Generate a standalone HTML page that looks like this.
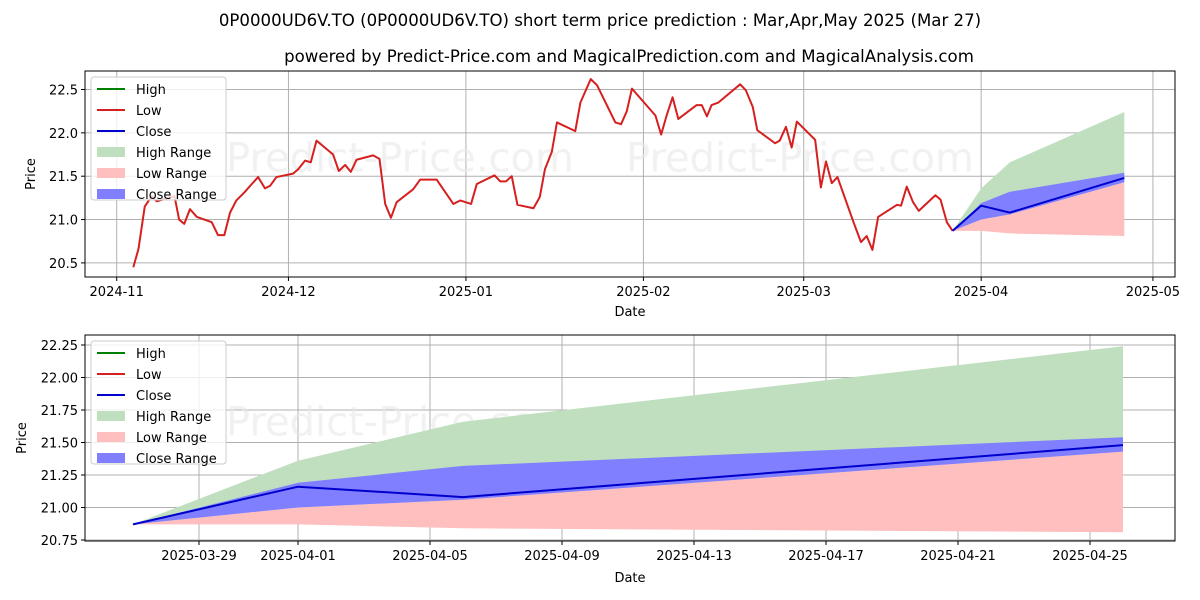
<!DOCTYPE html>
<html><head><meta charset="utf-8"><style>
body{margin:0;background:#fff;}
svg{display:block;font-family:"DejaVu Sans","Liberation Sans",sans-serif;}
</style></head><body>
<svg id="c" width="1200" height="600" xmlns="http://www.w3.org/2000/svg">
<text x="600" y="26" text-anchor="middle" font-size="16.6">0P0000UD6V.TO (0P0000UD6V.TO) short term price prediction : Mar,Apr,May 2025 (Mar 27)</text>
<text x="629" y="62" text-anchor="middle" font-size="16.6">powered by Predict-Price.com and MagicalPrediction.com and MagicalAnalysis.com</text>
<g id="top"></g><g id="bot"></g>
</svg>
<script>
// history (day offset from 2024-11-01, price)
const histDays=[2.9,3.8,4.9,6.1,7.0,9.0,10.1,10.9,11.8,12.8,14.0,16.6,17.7,18.8,19.8,20.9,22.4,23.6,24.7,25.9,26.8,27.9,30.8,31.7,32.9,33.9,34.9,37.8,38.8,39.9,40.9,41.9,44.8,45.9,46.9,47.9,48.9,51.8,53.0,55.9,58.8,60.0,61.9,62.9,66.0,67.0,68.0,69.0,70.0,72.8,73.9,74.8,76.0,76.9,80.1,81.0,82.8,83.9,87.1,88.1,89.1,90.0,94.1,95.1,96.1,97.1,98.1,101.3,102.2,103.1,103.9,105.1,108.9,109.9,111.1,111.9,115.0,115.8,116.9,117.9,118.8,122.0,123.0,123.9,124.9,125.9,128.7,130.0,131.0,132.0,133.0,136.3,137.0,138.0,139.1,140.1,143.0,143.9,145.0,146.0];
const histLow=[20.45,20.66,21.15,21.27,21.21,21.25,21.27,21.0,20.95,21.12,21.03,20.97,20.82,20.82,21.08,21.22,21.32,21.41,21.49,21.36,21.39,21.49,21.53,21.58,21.68,21.66,21.91,21.75,21.56,21.63,21.55,21.69,21.74,21.70,21.18,21.02,21.20,21.35,21.46,21.46,21.18,21.22,21.18,21.41,21.51,21.44,21.44,21.50,21.17,21.13,21.26,21.58,21.78,22.12,22.02,22.35,22.62,22.55,22.12,22.10,22.25,22.51,22.20,21.98,22.21,22.41,22.16,22.32,22.32,22.19,22.32,22.35,22.56,22.49,22.30,22.03,21.88,21.91,22.07,21.83,22.13,21.92,21.37,21.67,21.42,21.49,20.97,20.74,20.81,20.65,21.03,21.17,21.16,21.38,21.20,21.10,21.28,21.23,20.97,20.87];
// forecast (day offset from 2024-11-01): 03-27, 04-01, 04-06, 04-26
const fcDays=[146,151,156,176];
const fcClose=[20.87,21.16,21.08,21.48];
const fcHighTop=[20.87,21.36,21.66,22.24];
const fcCloseTop=[20.87,21.19,21.32,21.54];
const fcCloseBot=[20.87,21.00,21.06,21.43];
const fcLowBot=[20.87,20.87,20.84,20.81];
const topYTicks=[20.5,21.0,21.5,22.0,22.5];
const topXTicks=["2024-11","2024-12","2025-01","2025-02","2025-03","2025-04","2025-05"];
const topXTickDays=[0,30,61,92,120,151,181];
const botYTicks=[20.75,21.00,21.25,21.50,21.75,22.00,22.25];
const botXTicks=["2025-03-29","2025-04-01","2025-04-05","2025-04-09","2025-04-13","2025-04-17","2025-04-21","2025-04-25"];
const botXTickDays=[148,151,155,159,163,167,171,175];

const NS="http://www.w3.org/2000/svg";
function mk(p,t,a){const e=document.createElementNS(NS,t);for(const k in a)e.setAttribute(k,a[k]);p.appendChild(e);return e;}
function panel(g,L,R,T,B,xs,ys,yt,ytf,xt,xtd,showHist){
  const fr=mk(g,'rect',{x:L,y:T,width:R-L,height:B-T,fill:'#fff',stroke:'none'});
  
  
  yt.forEach(v=>{const y=ys(v);
    mk(g,'line',{x1:L,x2:R,y1:y,y2:y,stroke:'#b0b0b0','stroke-width':1});
    mk(g,'line',{x1:L-4,x2:L,y1:y,y2:y,stroke:'#000'});
    const t=mk(g,'text',{x:L-7,y:y+5,'text-anchor':'end','font-size':13});t.textContent=ytf(v);
    
    });
  xt.forEach((s,i)=>{const x=xs(xtd[i]);
    mk(g,'line',{x1:x,x2:x,y1:T,y2:B,stroke:'#b0b0b0','stroke-width':1});
    mk(g,'line',{x1:x,x2:x,y1:B,y2:B+4,stroke:'#000'});
    const t=mk(g,'text',{x:x,y:B+19,'text-anchor':'middle','font-size':13});t.textContent=s;
    
    });
  const wm=[[400,T+(B-T)*0.42],[800,T+(B-T)*0.42]];
  wm.forEach(p=>{const t=mk(g,'text',{x:p[0],y:p[1]+14,'text-anchor':'middle','font-size':40,fill:'#e8e8e8','fill-opacity':0.6});t.textContent='Predict-Price.com';
    
    });
  const poly=(top,bot,fill,name)=>{let pts=fcDays.map((d,i)=>xs(d)+','+ys(top[i]));
    for(let i=fcDays.length-1;i>=0;i--)pts.push(xs(fcDays[i])+','+ys(bot[i]));
    const p=mk(g,'polygon',{points:pts.join(' '),fill:fill});
    
    };
  poly(fcHighTop,fcCloseBot,'#bfdfbf','high-range');
  poly(fcCloseBot,fcLowBot,'#ffbfbf','low-range');
  poly(fcCloseTop,fcCloseBot,'#7f7fff','close-range');
  if(showHist){const l=mk(g,'polyline',{points:histDays.map((d,i)=>xs(d)+','+ys(histLow[i])).join(' '),fill:'none',stroke:'#d62020','stroke-width':2,'stroke-linejoin':'round'});
    
    }
  const c=mk(g,'polyline',{points:fcDays.map((d,i)=>xs(d)+','+ys(fcClose[i])).join(' '),fill:'none',stroke:'#0000cc','stroke-width':2});
  
  
  mk(g,'rect',{x:L,y:T,width:R-L,height:B-T,fill:'none',stroke:'#000','stroke-width':1});
  // legend
  const lg=mk(g,'g',{});
  
  
  mk(lg,'rect',{x:L+6,y:T+6,width:135,height:123,rx:3,fill:'#fff','fill-opacity':0.8,stroke:'#ccc'});
  const items=[['High','line','#008000'],['Low','line','#d62020'],['Close','line','#0000cc'],['High Range','box','#bfdfbf'],['Low Range','box','#ffbfbf'],['Close Range','box','#7f7fff']];
  items.forEach((it,i)=>{const y=T+18+i*21;
    if(it[1]=='line')mk(lg,'line',{x1:L+12,x2:L+40,y1:y,y2:y,stroke:it[2],'stroke-width':2});
    else mk(lg,'rect',{x:L+12,y:y-5,width:28,height:10,fill:it[2]});
    const t=mk(lg,'text',{x:L+51,y:y+5,'font-size':13});t.textContent=it[0];
    
    });
}
// top panel
const tL=85,tR=1175,tT=71,tB=277;
panel(document.getElementById('top'),tL,tR,tT,tB,d=>116.7+d*5.725,v=>89.5+(22.5-v)*86.7,topYTicks,v=>v.toFixed(1),topXTicks,topXTickDays,true);
// bottom
const bL=85,bR=1175,bT=335,bB=541;
panel(document.getElementById('bot'),bL,bR,bT,bB,d=>133+(d-146)*33,v=>345+(22.25-v)*130,botYTicks,v=>v.toFixed(2),botXTicks,botXTickDays,false);
const svg=document.getElementById('c');
[['Date',630,316,0,'x-axis-title-top'],['Date',630,582,0,'x-axis-title-bottom']].forEach(a=>{const t=mk(svg,'text',{x:a[1],y:a[2],'text-anchor':'middle','font-size':13});t.textContent=a[0];
  
  });
[['Price',35,174,'y-axis-title-top'],['Price',26,438,'y-axis-title-bottom']].forEach(a=>{const t=mk(svg,'text',{x:a[1],y:a[2],'text-anchor':'middle','font-size':13,transform:'rotate(-90 '+a[1]+' '+a[2]+')'});t.textContent=a[0];
  
  });
</script>
</body></html>
